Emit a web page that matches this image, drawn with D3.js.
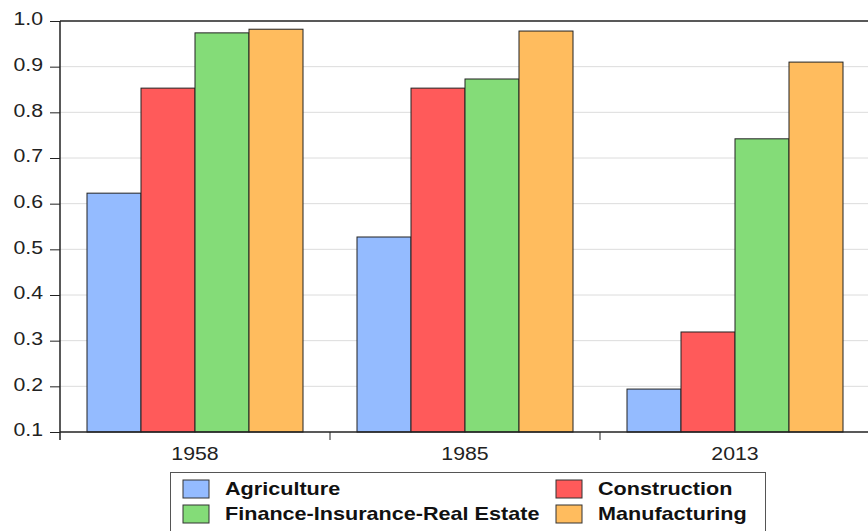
<!DOCTYPE html>
<meta charset="utf-8">
<script src="https://d3js.org/d3.v7.min.js"></script>
<style>
  body { margin: 0; background: #fff; }
  text { font-family: "Liberation Sans", Arial, sans-serif; }
</style>
<div id="chart"></div>
<script>
    var years = ["1958", "1985", "2013"];
    var sectors = ["Agriculture", "Construction", "Finance-Insurance-Real Estate", "Manufacturing"];
    var agriculture = [0.623, 0.527, 0.194];
    var construction = [0.853, 0.853, 0.319];
    var finance = [0.974, 0.873, 0.742];
    var manufacturing = [0.982, 0.978, 0.910];
    var yTicks = [0.1, 0.2, 0.3, 0.4, 0.5, 0.6, 0.7, 0.8, 0.9, 1.0];
    var colors = ["#94bbff", "#ff5a5a", "#84dc78", "#ffbc5e"];

    var series = [agriculture, construction, finance, manufacturing];

    var width = 868, height = 531;
    var margin = { top: 21, left: 60, bottom: 99, right: -2 };
    var plotW = width - margin.left - margin.right;
    var plotH = height - margin.top - margin.bottom;
    var stretch = 1.15; // the source text is a bit wide

    var svg = d3.select("#chart").append("svg")
        .attr("width", width)
        .attr("height", height);

    var g = svg.append("g")
        .attr("transform", "translate(" + margin.left + "," + margin.top + ")");

    var x0 = d3.scaleBand().domain(years).range([0, plotW]).paddingInner(0).paddingOuter(0);
    var x1 = d3.scaleBand().domain(sectors).range([x0.bandwidth() * 0.1, x0.bandwidth() * 0.9]);
    var y = d3.scaleLinear().domain([0.1, 1.0]).range([plotH, 0]);

    // grid
    g.selectAll(".grid")
        .data(yTicks.slice(1, -1))
        .enter().append("line")
        .attr("x1", 0).attr("x2", plotW)
        .attr("y1", function(d) { return y(d); })
        .attr("y2", function(d) { return y(d); })
        .attr("stroke", "#dcdcdc")
        .attr("stroke-width", 1);

    // bars
    var groups = g.selectAll(".year")
        .data(years)
        .enter().append("g")
        .attr("transform", function(d) { return "translate(" + x0(d) + ",0)"; });

    groups.selectAll("rect")
        .data(function(d, i) {
            return sectors.map(function(s, j) { return { s: s, v: series[j][i], c: colors[j] }; });
        })
        .enter().append("rect")
        .attr("x", function(d) { return x1(d.s); })
        .attr("width", x1.bandwidth())
        .attr("y", function(d) { return y(d.v); })
        .attr("height", function(d) { return plotH - y(d.v); })
        .attr("fill", function(d) { return d.c; })
        .attr("stroke", "#222")
        .attr("stroke-width", 1);

    // frame top + left + bottom
    g.append("line").attr("x1", 0).attr("x2", plotW).attr("y1", 0).attr("y2", 0)
        .attr("stroke", "#222").attr("stroke-width", 1.5);
    g.append("line").attr("x1", 0).attr("x2", plotW).attr("y1", plotH).attr("y2", plotH)
        .attr("stroke", "#222").attr("stroke-width", 1.5);
    g.append("line").attr("x1", 0).attr("x2", 0).attr("y1", 0).attr("y2", plotH + 8)
        .attr("stroke", "#222").attr("stroke-width", 1.5);

    // y axis
    var yAxis = g.append("g")
        .call(d3.axisLeft(y).tickValues(yTicks).tickFormat(d3.format(".1f")).tickSize(10).tickPadding(0));
    yAxis.select(".domain").remove();
    yAxis.selectAll(".tick line").attr("stroke", "#222");
    yAxis.selectAll(".tick text")
        .attr("x", null)
        .attr("transform", "translate(-17,-2) scale(" + stretch + ",1)")
        .attr("font-size", "18.5px")
        .attr("fill", "#222")
        .attr("font-family", "Liberation Sans, Arial, sans-serif");

    // category boundary ticks
    g.selectAll(".ctick")
        .data(years.slice(1))
        .enter().append("line")
        .attr("x1", function(d) { return x0(d); })
        .attr("x2", function(d) { return x0(d); })
        .attr("y1", plotH).attr("y2", plotH + 8)
        .attr("stroke", "#222");

    g.selectAll(".clabel")
        .data(years)
        .enter().append("text")
        .attr("transform", function(d) {
            return "translate(" + (x0(d) + x0.bandwidth() / 2) + "," + (plotH + 28) + ") scale(" + stretch + ",1)";
        })
        .attr("text-anchor", "middle")
        .attr("font-size", "18.5px")
        .attr("fill", "#222")
        .text(function(d) { return d; });

    // legend
    var legend = svg.append("g").attr("transform", "translate(170,472)");
    legend.append("rect")
        .attr("x", 0.5).attr("y", 0.5)
        .attr("width", 595).attr("height", 60)
        .attr("fill", "#fff")
        .attr("stroke", "#555");

    var legendPos = [[13, 8], [386, 8], [13, 33], [386, 33]];
    var item = legend.selectAll(".item")
        .data(sectors)
        .enter().append("g")
        .attr("transform", function(d, i) { return "translate(" + legendPos[i][0] + "," + legendPos[i][1] + ")"; });

    item.append("rect")
        .attr("width", 26).attr("height", 18)
        .attr("fill", function(d, i) { return colors[i]; })
        .attr("stroke", "#333");

    item.append("text")
        .attr("transform", "translate(42,15) scale(1.2,1)")
        .attr("font-size", "18px")
        .attr("font-weight", "bold")
        .attr("fill", "#111")
        .text(function(d) { return d; });
</script>
